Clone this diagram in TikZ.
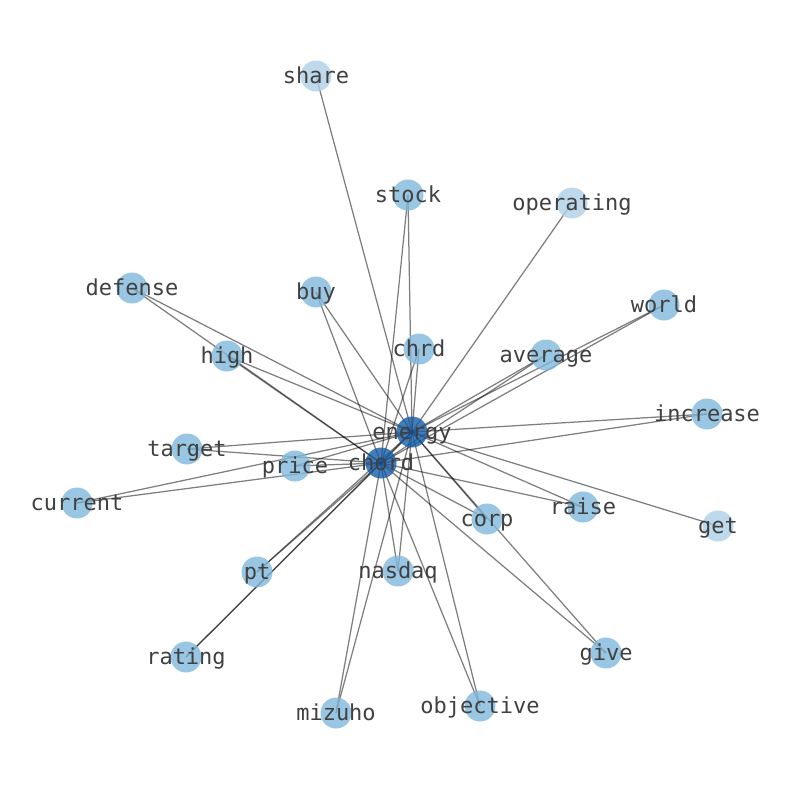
\documentclass[tikz,border=0pt]{standalone}
\usepackage{fontspec}
\setmonofont{DejaVu Sans Mono}
\usetikzlibrary{backgrounds}
\definecolor{hubblue}{RGB}{22,92,165}
\definecolor{midblue}{RGB}{128,184,219}
\definecolor{lightblue}{RGB}{172,208,230}
\definecolor{labelgray}{RGB}{64,64,64}

\begin{document}
\begin{tikzpicture}[x=1pt, y=-1pt,
    word/.style={circle, inner sep=0pt, minimum size=31pt, fill=#1, fill opacity=0.8},
    lbl/.style={text=labelgray, text opacity=1, inner sep=0pt,
        font=\ttfamily\fontsize{22}{22}\selectfont, text height=16.5pt, text depth=2pt},
    link/.style={draw=black, draw opacity=0.5, line width=1.25pt}]
    \useasboundingbox (0,0) rectangle (794,790);
    % words seen only with energy
    \foreach \n/\x/\y in {share/316/76, operating/572/203, get/718/526} {
        \node[word=lightblue, label={[lbl]center:\n}] (\n) at (\x,\y) {};
    }
    % words seen with both
    \foreach \n/\x/\y in {stock/408/195, defense/132/288, buy/316/292, world/664/305,
        chrd/419/349, average/546/355, high/227/356, increase/707/414, target/187/449,
        price/295/466, current/77/503, raise/583/507, corp/487/519, pt/257/572,
        nasdaq/398/571, give/606/653, rating/186/657, mizuho/336/713, objective/480/706} {
        \node[word=midblue, label={[lbl]center:\n}] (\n) at (\x,\y) {};
    }
    \node[word=hubblue, label={[lbl]center:energy}] (energy) at (412,432) {};
    \node[word=hubblue, label={[lbl]center:chord}] (chord) at (381,463) {};
    \begin{pgfonlayer}{background}
        \draw[link] (energy.center) -- (chord.center);
        \foreach \n in {share,operating,get} {
            \draw[link] (\n.center) -- (energy.center);
        }
        \foreach \n in {stock,defense,buy,world,chrd,average,high,increase,target,price,
            current,raise,corp,pt,nasdaq,give,rating,mizuho,objective} {
            \draw[link] (\n.center) -- (energy.center);
            \draw[link] (\n.center) -- (chord.center);
        }
    \end{pgfonlayer}
\end{tikzpicture}
\end{document}
